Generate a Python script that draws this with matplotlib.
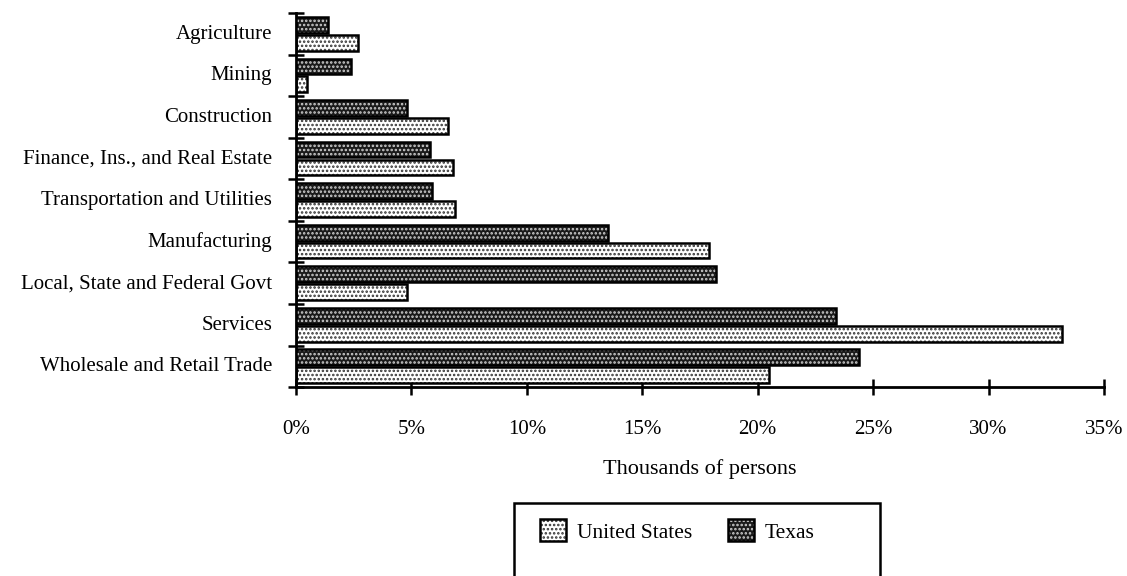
import matplotlib.pyplot as plt
from matplotlib.patches import Rectangle, Patch
from matplotlib.legend_handler import HandlerTuple
import numpy as np

plt.rcParams['font.family'] = ['Liberation Serif', 'DejaVu Serif']
plt.rcParams['hatch.linewidth'] = 1.2

categories = ["Agriculture", "Mining", "Construction", "Finance, Ins., and Real Estate",
              "Transportation and Utilities", "Manufacturing", "Local, State and Federal Govt",
              "Services", "Wholesale and Retail Trade"]
united_states = [2.7, 0.5, 6.6, 6.8, 6.9, 17.9, 4.8, 33.2, 20.5]
texas = [1.4, 2.4, 4.8, 5.8, 5.9, 13.5, 18.2, 23.4, 24.4]
xticks = [0, 5, 10, 15, 20, 25, 30, 35]

fig = plt.figure(figsize=(11.27, 5.76), dpi=100)
ax = fig.add_axes([0.2626, 0.328, 0.717, 0.6494])

n = len(categories)
y = np.arange(n)[::-1]
h = 0.38
off = 0.215

# texas: black with white dots
ax.barh(y + off, texas, height=h, color='#1a1a1a', edgecolor='none', zorder=2)
ax.barh(y + off, texas, height=h, color='none', edgecolor='#d0d0d0', hatch='....', linewidth=0, zorder=3)
ax.barh(y + off, texas, height=h, color='none', edgecolor='black', linewidth=1.8, zorder=4)
# us: white with black dots
ax.barh(y - off, united_states, height=h, color='white', edgecolor='#333333', hatch='....', linewidth=0, zorder=2)
ax.barh(y - off, united_states, height=h, color='none', edgecolor='black', linewidth=1.8, zorder=4)

ax.set_xlim(0, 35)
ax.set_ylim(-0.5, n - 0.5)
ax.spines['top'].set_visible(False)
ax.spines['right'].set_visible(False)
ax.spines['left'].set_linewidth(2)
ax.spines['bottom'].set_linewidth(2)

ax.set_xticks(xticks)
ax.set_xticklabels([f"{t}%" for t in xticks], fontsize=15)
ax.tick_params(axis='x', direction='inout', length=12, width=1.8, pad=18)
ax.set_yticks(y + 0.05)
ax.set_yticklabels(categories, fontsize=15)
ax.tick_params(axis='y', length=0, pad=17)
ax.set_yticks(np.arange(n + 1) - 0.5, minor=True)
ax.tick_params(axis='y', which='minor', direction='inout', length=12, width=1.8)

ax.set_xlabel("Thousands of persons", fontsize=16, labelpad=14)

# legend box
fig.patches.append(Rectangle((0.4561, -0.01), 0.3248, 0.137, transform=fig.transFigure,
                             fill=False, edgecolor='black', linewidth=1.8))
us_h = (Patch(facecolor='white', edgecolor='#333333', hatch='....', linewidth=0),
        Patch(facecolor='none', edgecolor='black', linewidth=1.8))
tx_h = (Patch(facecolor='#1a1a1a', edgecolor='none'),
        Patch(facecolor='none', edgecolor='#d0d0d0', hatch='....', linewidth=0),
        Patch(facecolor='none', edgecolor='black', linewidth=1.8))
fig.legend(handles=[us_h, tx_h], labels=['United States', 'Texas'],
           handler_map={tuple: HandlerTuple(ndivide=1, pad=0)},
           loc='center left', bbox_to_anchor=(0.462, 0.078), ncol=2,
           frameon=False, fontsize=15.5, handlelength=1.2, handleheight=1.2,
           handletextpad=0.5, columnspacing=1.7)

fig.savefig("out.png", dpi=100)
